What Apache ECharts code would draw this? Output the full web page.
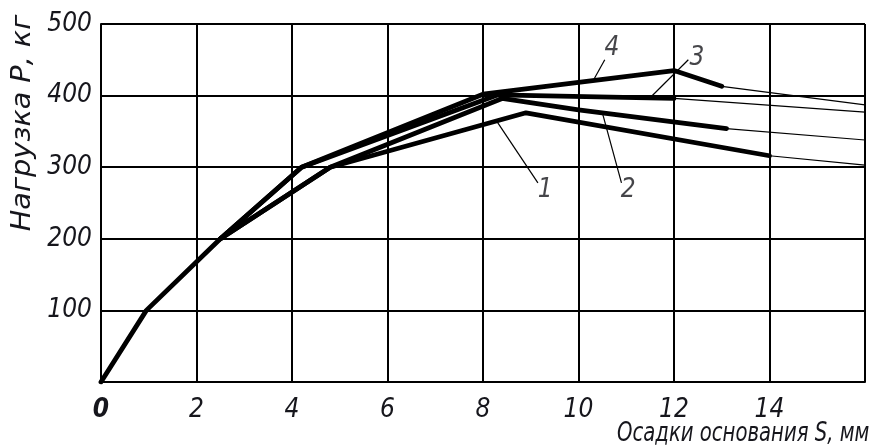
<!DOCTYPE html>
<html><head><meta charset="utf-8">
<script src="https://cdn.jsdelivr.net/npm/echarts@6/dist/echarts.min.js"></script>
<style>html,body{margin:0;padding:0;background:#fff}#c{width:875px;height:445px}</style>
</head><body><div id="c"></div>
<script>
// Tick labels
const xTicks = [0, 2, 4, 6, 8, 10, 12, 14];
const yTicks = [100, 200, 300, 400, 500];
// Common initial part
const commonS = [0, 0.95, 2.5];
const commonP = [0, 100, 200];
// Curve 1
const c1S = [2.5, 4.8, 8.9, 14.0];
const c1P = [200, 300, 376, 316];
const c1tS = [14.0, 16];
const c1tP = [316, 303];
// Curve 2
const c2S = [2.5, 4.8, 8.4, 10.0, 13.1];
const c2P = [200, 300, 396, 380, 354];
const c2tS = [13.1, 16];
const c2tP = [354, 338];
// Curve 3
const c3S = [2.5, 4.2, 8.3, 12.0];
const c3P = [200, 300, 401, 396];
const c3tS = [12.0, 16];
const c3tP = [396, 377];
// Curve 4
const c4S = [2.5, 4.2, 8.0, 12.0, 13.0];
const c4P = [200, 300, 402, 435, 413];
const c4tS = [13.0, 16];
const c4tP = [413, 387];
// Leader lines and labels
const leaderNames = ['1', '2', '3', '4'];
const leaderS = [[8.3, 9.15], [10.5, 10.9], [11.5, 12.3], [10.3, 10.55]];
const leaderP = [[363, 278], [376, 278], [397, 450], [420, 450]];
const labelS = [9.30, 11.04, 12.48, 10.70];
const labelP = [268, 268, 452, 466];

const pairs = (xs, ys) => xs.map((x, i) => [x, ys[i]]);
const FONT = '"DejaVu Sans Condensed", "DejaVu Sans", sans-serif';
const TXT = '#16161c';

const thick = (name, xs, ys) => ({
  type: 'line', name, data: pairs(xs, ys), symbol: 'none', silent: true,
  lineStyle: { color: '#000', width: 4.8, cap: 'round', join: 'round' }, z: 5
});
const thin = (name, xs, ys) => ({
  type: 'line', name, data: pairs(xs, ys), symbol: 'none', silent: true,
  lineStyle: { color: '#000', width: 1.2 }, z: 4
});

const series = [
  thick('common', commonS, commonP),
  thick('1', c1S, c1P), thin('1t', c1tS, c1tP),
  thick('2', c2S, c2P), thin('2t', c2tS, c2tP),
  thick('3', c3S, c3P), thin('3t', c3tS, c3tP),
  thick('4', c4S, c4P), thin('4t', c4tS, c4tP)
];
leaderNames.forEach((n, i) => {
  series.push(thin('leader' + n, leaderS[i], leaderP[i]));
});
series.push({
  type: 'scatter', symbolSize: 0, silent: true, z: 6,
  data: leaderNames.map((n, i) => ({ name: n, value: [labelS[i], labelP[i]] })),
  label: {
    show: true, position: 'inside', formatter: p => p.name,
    fontFamily: FONT, fontStyle: 'italic', fontSize: 26, color: TXT
  }
});

const chart = echarts.init(document.getElementById('c'), null, { renderer: 'canvas' });
chart.setOption({
  animation: false,
  backgroundColor: '#fff',
  grid: { left: 101, right: 10, top: 24, bottom: 63, containLabel: false },
  xAxis: {
    type: 'value', min: 0, max: 16, interval: 2,
    axisLine: { show: true, lineStyle: { color: '#000', width: 2 } },
    axisTick: { show: false },
    splitLine: { show: true, lineStyle: { color: '#000', width: 2 } },
    axisLabel: {
      margin: 15, fontFamily: FONT, fontStyle: 'italic', fontSize: 26, color: TXT,
      formatter: v => xTicks.includes(v) ? (v === 0 ? '{b|0}' : String(v)) : '',
      rich: { b: { fontFamily: FONT, fontStyle: 'italic', fontWeight: 'bold', fontSize: 26, color: TXT } }
    }
  },
  yAxis: {
    type: 'value', min: 0, max: 500, interval: 100,
    axisLine: { show: true, lineStyle: { color: '#000', width: 2 } },
    axisTick: { show: false },
    splitLine: { show: true, lineStyle: { color: '#000', width: 2 } },
    axisLabel: {
      margin: 9, fontFamily: FONT, fontStyle: 'italic', fontSize: 26, color: TXT,
      formatter: v => yTicks.includes(v) ? String(v) : ''
    }
  },
  graphic: [
    {
      type: 'text', x: 617, y: 434, scaleX: 0.84,
      style: { text: 'Осадки основания S, мм', font: 'italic 26px ' + FONT, fill: TXT, verticalAlign: 'middle' }
    },
    {
      type: 'text', x: 23, y: 123, rotation: Math.PI / 2, scaleX: 1.18,
      style: { text: 'Нагрузка Р, кг', font: 'italic 27px ' + FONT, fill: TXT, align: 'center', verticalAlign: 'middle' }
    }
  ],
  series
});
</script></body></html>
